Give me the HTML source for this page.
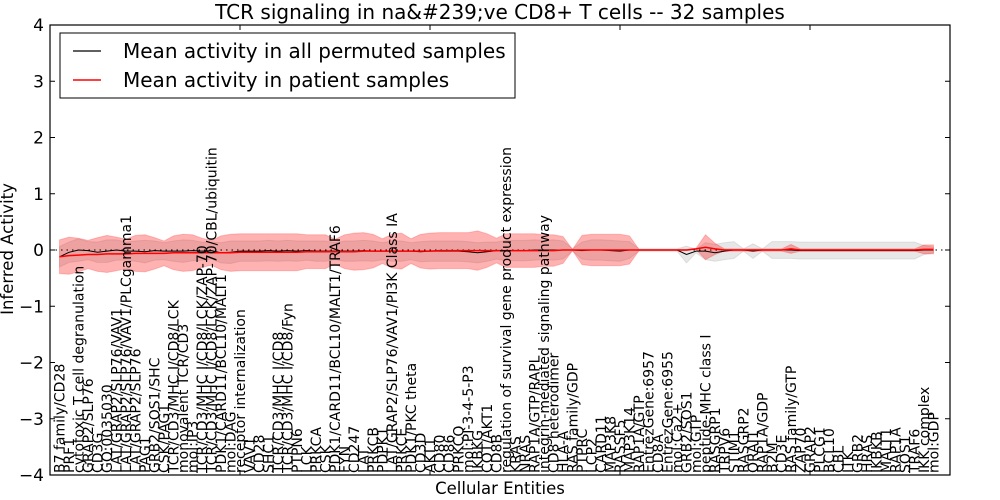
<!DOCTYPE html>
<html><head><meta charset="utf-8">
<style>
html,body{margin:0;padding:0;background:#fff;}
svg{display:block;font-family:"DejaVu Sans","Liberation Sans",sans-serif;}
</style></head>
<body>
<svg id="chart" width="1000" height="500" viewBox="0 0 1000 500" xmlns="http://www.w3.org/2000/svg">
<rect width="1000" height="500" fill="#fff"/>
<text x="500" y="19" text-anchor="middle" font-size="20">TCR signaling in na&amp;#239;ve CD8+ T cells -- 32 samples</text>
<g id="plot"></g>
<text x="500" y="494" text-anchor="middle" font-size="16.5">Cellular Entities</text>
<text transform="translate(13,249) rotate(-90)" text-anchor="middle" font-size="16.5">Inferred Activity</text>
</svg>
<script>
const categories = ["B7 family/CD28","PRF1","cytotoxic T cell degranulation","GRAP2/SLP76","CD3G","GO:0035030","LAT/GRAP2/SLP76/VAV1","LAT/GRAP2/SLP76/VAV1/PLCgamma1","LAT/GRAP2/SLP76","PAG1","GRB2/SOS1/SHC","CSK/PAG1","TCR/CD3/MHC I/CD8/LCK","monovalent TCR/CD3","mol:IP3","TCR/CD3/MHC I/CD8/LCK/ZAP-70","TCR/CD3/MHC I/CD8/LCK/ZAP-70/CBL/ubiquitin","PDK1/CARD11/BCL10/MALT1","mol:DAG","receptor internalization","VAV1","CD28","SHC1","TCR/CD3/MHC I/CD8","TCR/CD3/MHC I/CD8/Fyn","PTPN6","LCK","PRKCA","CSK","PDK1/CARD11/BCL10/MALT1/TRAF6","FYN","CD247","LAT","PRKCB","PDPK1","LAT/GRAP2/SLP76/VAV1/PI3K Class IA","PRKCE","PDK1/PKC theta","CD3D","AKT1","CD80","CD86","PRKCQ","mol:PI-3-4-5-P3","IKBKG","COT/AKT1","CD8B","regulation of survival gene product expression","KRAS","NRAS","RAP1A/GTP/RAPL","integrin-mediated signaling pathway","CD8 heterodimer","HLA-A","RAS family/GDP","PTPRC","LCP2","CARD11","MAP3K8","RASSF5","MAP3K14","RAP1A/GTP","EntrezGene:6957","CD8A","EntrezGene:6955","mol:Ca2+","GRB2/SOS1","mol:GTP","peptide-MHC class I","RASGRP1","TRPV6","STIM1","RASGRP2","ORAI1","RAP1A/GDP","B2M","CD3E","RAS family/GTP","ZAP70","GRAP2","PLCG1","BCL10","CBL","ITK","GRB2","HRAS","IKBKB","MALT1","RAP1A","SOS1","TRAF6","IKK complex","mol:GDP"];
const patientMean = [-0.12,-0.10,-0.09,-0.08,-0.08,-0.07,-0.07,-0.07,-0.06,-0.06,-0.06,-0.06,-0.05,-0.05,-0.05,-0.05,-0.05,-0.05,-0.05,-0.04,-0.04,-0.04,-0.04,-0.04,-0.04,-0.04,-0.03,-0.03,-0.03,-0.03,-0.03,-0.03,-0.02,-0.02,-0.02,-0.02,-0.02,-0.02,-0.02,-0.02,-0.01,-0.01,-0.01,-0.01,-0.01,-0.01,-0.01,-0.01,-0.01,-0.01,-0.01,-0.01,-0.01,0,0,0,0,0,0,0,0,0,0,0,0,0,0,0.02,0.05,0.02,0,0,0,0,0,0,0,0.02,0,0,0,0,0,0,0,0,0,0,0,0,0,0.01,0.01];
const patientSpread = [0.30,0.33,0.30,0.25,0.30,0.33,0.30,0.26,0.32,0.33,0.28,0.22,0.30,0.33,0.32,0.26,0.22,0.30,0.33,0.33,0.33,0.33,0.33,0.33,0.33,0.33,0.30,0.30,0.30,0.22,0.30,0.33,0.33,0.30,0.22,0.30,0.32,0.22,0.30,0.32,0.32,0.32,0.32,0.32,0.35,0.30,0.22,0.30,0.30,0.30,0.30,0.28,0.28,0.24,0.01,0.26,0.28,0.28,0.28,0.28,0.25,0.01,0.01,0.01,0.01,0.01,0.01,0.01,0.22,0.10,0.02,0.02,0.02,0.02,0.02,0.02,0.02,0.08,0.02,0.02,0.02,0.02,0.02,0.02,0.02,0.02,0.02,0.02,0.02,0.02,0.02,0.08,0.08];
const permutedMean = [-0.12,-0.04,0.0,-0.01,-0.04,-0.02,0.0,-0.02,-0.02,-0.03,-0.01,-0.02,-0.02,-0.02,-0.01,-0.02,-0.01,-0.05,-0.04,-0.02,-0.02,-0.02,-0.01,-0.02,-0.01,-0.02,-0.01,-0.02,-0.02,-0.02,-0.02,-0.02,-0.01,-0.02,-0.02,-0.02,-0.02,-0.02,-0.03,-0.02,-0.02,-0.02,-0.02,-0.03,-0.05,-0.03,-0.01,-0.01,-0.01,-0.01,0,0,0,0,0,-0.01,0,0,-0.01,-0.02,0,0,0,0,0,0,-0.08,-0.02,-0.02,-0.05,-0.02,0,0,-0.02,0,0,0,0,-0.01,-0.01,-0.01,-0.01,-0.01,-0.01,-0.01,-0.01,-0.01,-0.01,-0.01,-0.01,-0.01,0,0];
const permutedSpread = [0.18,0.18,0.20,0.16,0.18,0.20,0.18,0.16,0.18,0.20,0.17,0.15,0.18,0.20,0.18,0.16,0.15,0.18,0.20,0.18,0.18,0.18,0.18,0.18,0.18,0.18,0.17,0.18,0.18,0.15,0.18,0.18,0.18,0.18,0.15,0.18,0.18,0.15,0.18,0.18,0.18,0.18,0.18,0.18,0.18,0.17,0.15,0.18,0.18,0.18,0.18,0.17,0.18,0.16,0.02,0.15,0.18,0.18,0.18,0.18,0.15,0.02,0.02,0.02,0.02,0.02,0.15,0.03,0.15,0.15,0.15,0.15,0.02,0.13,0.02,0.15,0.15,0.15,0.15,0.15,0.15,0.15,0.15,0.15,0.15,0.15,0.15,0.15,0.15,0.15,0.15,0.08,0.05];
const yTicks = [-4,-3,-2,-1,0,1,2,3,4];
const yTickLabels = ["\u22124","\u22123","\u22122","\u22121","0","1","2","3","4"];
const xTicks = [20,40,60,80];

const NS='http://www.w3.org/2000/svg';
const L=50,R=950,T=25,B=475;
const xMin=0,xMax=900/9.5;
const yMin=-4,yMax=4;
function xs(v){return L+(v-xMin)/(xMax-xMin)*(R-L);}
function ys(v){return B-(v-yMin)/(yMax-yMin)*(B-T);}
function xi(i){return xs(i+1);}
const plot=document.getElementById('plot');
function mk(tag,attrs,parent){const e=document.createElementNS(NS,tag);for(const k in attrs)e.setAttribute(k,attrs[k]);(parent||plot).appendChild(e);return e;}

function bandPath(mean,spread){
  let up=mean.map((m,i)=>xi(i).toFixed(1)+','+ys(m+spread[i]).toFixed(1));
  let lo=mean.map((m,i)=>xi(i).toFixed(1)+','+ys(m-spread[i]).toFixed(1)).reverse();
  return 'M'+up.join('L')+'L'+lo.join('L')+'Z';
}
function linePath(mean){return 'M'+mean.map((m,i)=>xi(i).toFixed(1)+','+ys(m).toFixed(1)).join('L');}

const gb=mk('path',{d:bandPath(permutedMean,permutedSpread),fill:'#bbbbbb','fill-opacity':'0.35',stroke:'#bbbbbb','stroke-opacity':'0.4'});


const rb=mk('path',{d:bandPath(patientMean,patientSpread),fill:'#ff0000','fill-opacity':'0.3',stroke:'#ff0000','stroke-opacity':'0.2'});


const zl=mk('line',{x1:L,x2:R,y1:ys(0),y2:ys(0),stroke:'#000','stroke-width':'1','stroke-dasharray':'1.5,4'});


const bl=mk('path',{d:linePath(permutedMean),fill:'none',stroke:'#000','stroke-width':'1'});


const rl=mk('path',{d:linePath(patientMean),fill:'none',stroke:'#ff0000','stroke-width':'1.5'});



const fr=mk('rect',{x:L,y:T,width:R-L,height:B-T,fill:'none',stroke:'#000','stroke-width':'1.2'});



yTicks.forEach((v,k)=>{
  const y=ys(v);
  const t1=mk('line',{x1:L,x2:L+5,y1:y,y2:y,stroke:'#000'});
  
  
  const t2=mk('line',{x1:R-5,x2:R,y1:y,y2:y,stroke:'#000'});
  
  
  const tl=mk('text',{x:L-6,y:y+6,'text-anchor':'end','font-size':'17'});
  tl.textContent=yTickLabels[k];
  
  
});
xTicks.forEach(v=>{
  const x=xs(v);
  const t=mk('line',{x1:x,x2:x,y1:T,y2:T+5,stroke:'#000'});
  
  
  const t2=mk('line',{x1:x,x2:x,y1:B-5,y2:B,stroke:'#000'});
  
  
});
categories.forEach((c,i)=>{
  const x=xi(i)+5;
  const t=mk('text',{transform:'translate('+x.toFixed(1)+','+(B-2)+') rotate(-90)','font-size':'14'});
  t.textContent=c;
  
  
});

const lg=mk('g',{});


mk('rect',{x:60,y:33,width:455,height:65,fill:'#fff',stroke:'#000','stroke-width':'1'},lg);
mk('line',{x1:73,x2:101,y1:51,y2:51,stroke:'#000','stroke-width':'1.2'},lg);
mk('line',{x1:73,x2:101,y1:80,y2:80,stroke:'#ff0000','stroke-width':'1.5'},lg);
const e1=mk('text',{x:123,y:58,'font-size':'20'},lg);
e1.textContent='Mean activity in all permuted samples';


const e2=mk('text',{x:123,y:87,'font-size':'20'},lg);
e2.textContent='Mean activity in patient samples';


</script>
</body></html>
